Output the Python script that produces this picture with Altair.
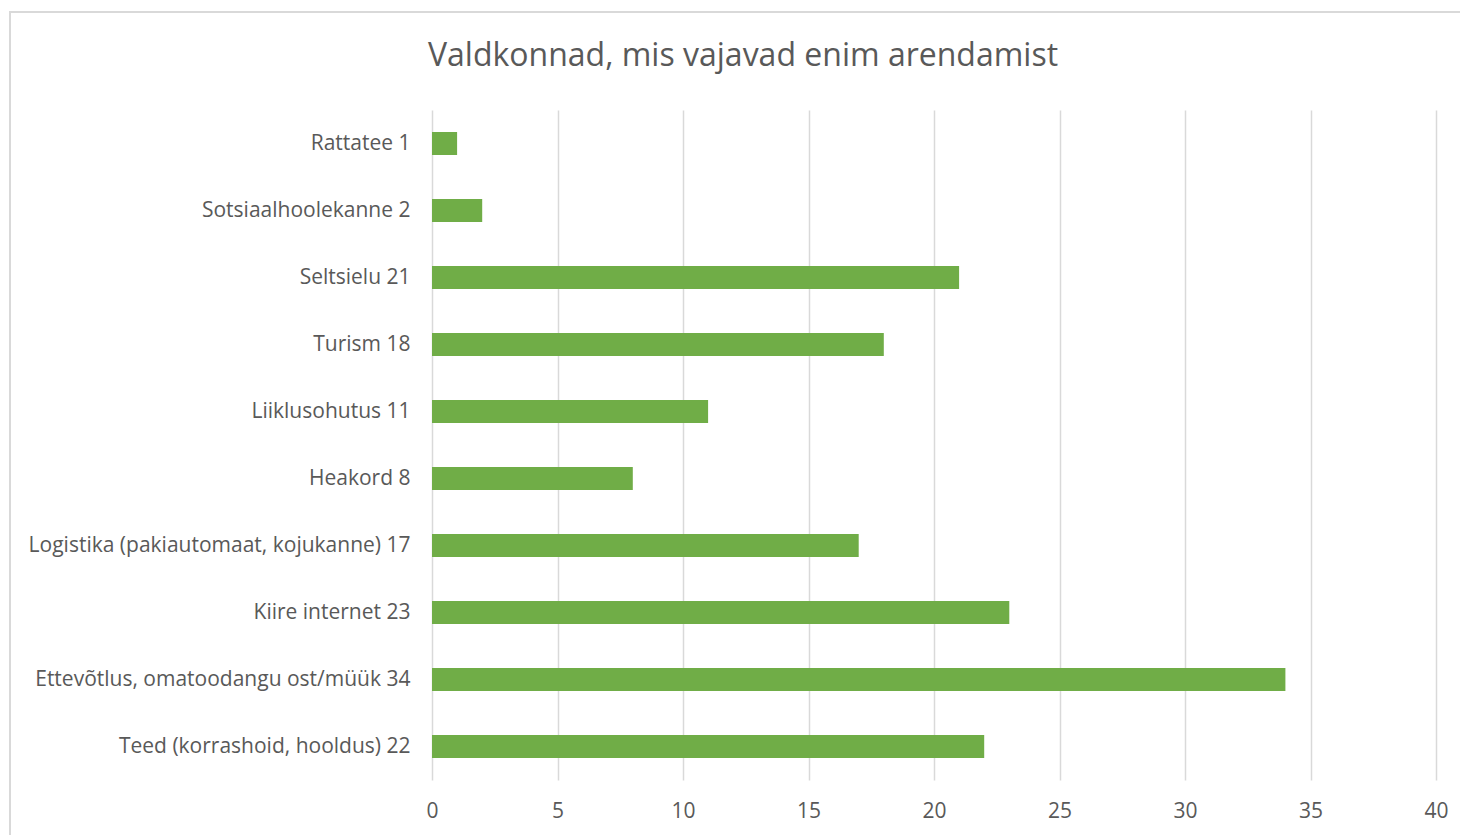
import altair as alt
import pandas as pd

title_text = "Valdkonnad, mis vajavad enim arendamist"
categories = [
    "Rattatee", "Sotsiaalhoolekanne", "Seltsielu", "Turism", "Liiklusohutus",
    "Heakord", "Logistika (pakiautomaat, kojukanne)", "Kiire internet",
    "Ettevõtlus, omatoodangu ost/müük", "Teed (korrashoid, hooldus)",
]
values = [1, 2, 21, 18, 11, 8, 17, 23, 34, 22]
x_ticks = [0, 5, 10, 15, 20, 25, 30, 35, 40]

labels = [f"{c} {v}" for c, v in zip(categories, values)]
df = pd.DataFrame({"label": labels, "value": values})

FONT = "Open Sans"
TXT = "#595959"
GRID = "#D9D9D9"

bars = alt.Chart(df).mark_bar(size=23, color="#70AD47").encode(
    x=alt.X("value:Q", scale=alt.Scale(domain=[0, 40], nice=False),
            axis=alt.Axis(values=x_ticks, title=None, grid=True, gridColor=GRID,
                          gridWidth=1.5, domain=False, ticks=False, labelFlush=False,
                          labelFontSize=21, labelColor=TXT, labelFont=FONT,
                          labelPadding=20)),
    y=alt.Y("label:N", sort=labels,
            axis=alt.Axis(title=None, domain=False, ticks=False, labelFontSize=21,
                          labelColor=TXT, labelFont=FONT, labelPadding=22,
                          labelLimit=600)),
)

frame = alt.Chart(pd.DataFrame({"a": [0]})).mark_rect(
    fill=None, stroke=GRID, strokeWidth=2, clip=False
).encode(
    x=alt.value(-422), x2=alt.value(1060), y=alt.value(-98), y2=alt.value(760)
)

title = alt.Chart(pd.DataFrame({"t": [title_text]})).mark_text(
    font=FONT, fontSize=32, color=TXT, align="center", baseline="middle", clip=False
).encode(text="t:N", x=alt.value(311), y=alt.value(-54))

chart = alt.layer(frame, bars, title).properties(
    width=1004, height=670,
    autosize=alt.AutoSizeParams(type="none"),
    padding={"left": 424, "top": 102, "right": 24, "bottom": 56},
).configure_view(stroke=None)

chart.save("out.html", embed_options={"renderer": "svg", "actions": False})
